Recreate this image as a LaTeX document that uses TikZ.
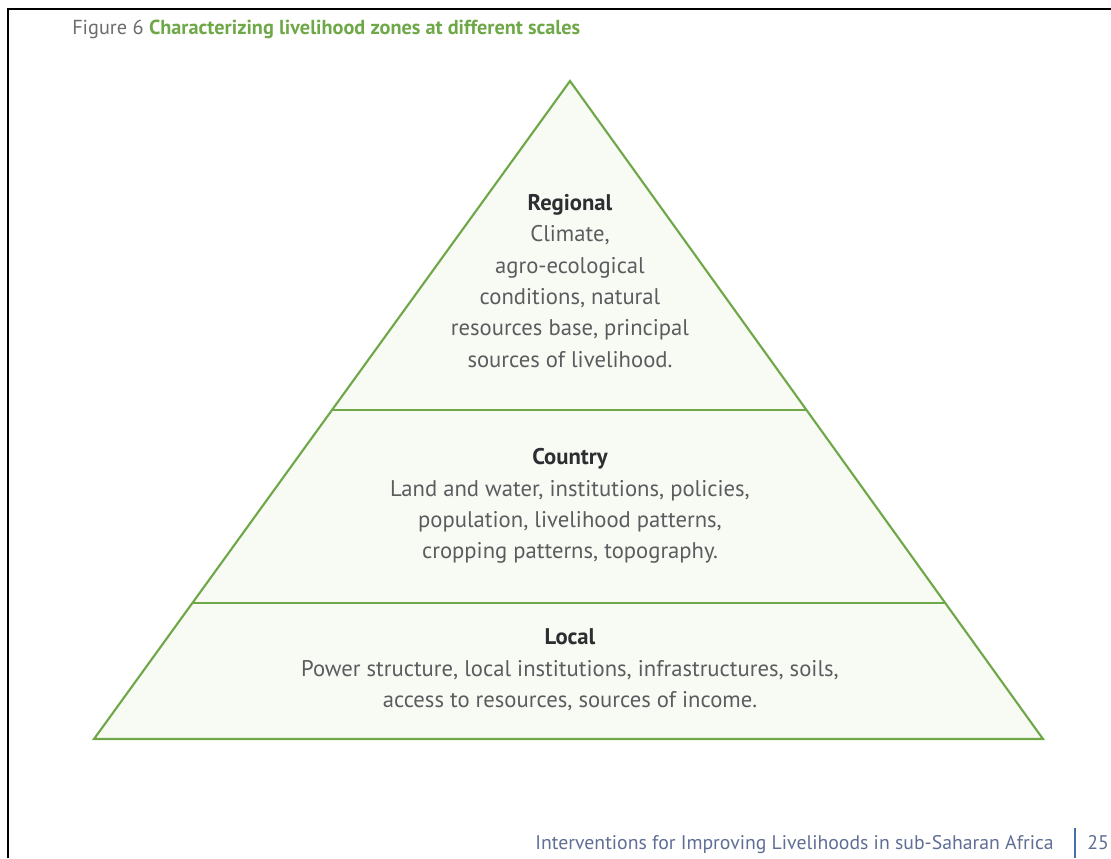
\documentclass[tikz,border=0pt]{standalone}
\usepackage{fontspec}
\setmainfont{PT Sans}
\definecolor{leafgreen}{RGB}{110,168,72}
\definecolor{palegreen}{RGB}{248,251,243}
\definecolor{bodygray}{RGB}{92,92,96}
\definecolor{headgray}{RGB}{45,45,50}
\definecolor{footblue}{RGB}{96,110,150}
\definecolor{barblue}{RGB}{70,110,170}

\begin{document}
\begin{tikzpicture}[x=0.75pt,y=-0.75pt,
    tier/.style={align=center,text=bodygray,inner sep=0pt,
      font=\fontsize{17}{23.5}\selectfont}]
  \useasboundingbox (0,0) rectangle (1111,858);
  % page frame
  \draw[line width=2.2pt] (8,858) -- (8,9) -- (1111,9);
  \node[anchor=base west,inner sep=0pt,text=gray!85!black,
    font=\fontsize{15.2}{17}\selectfont] (title) at (72,34)
    {Figure 6 \textcolor{leafgreen}{\bfseries Characterizing livelihood zones at different scales}};

  % pyramid
  \coordinate (top) at (570,81);
  \coordinate (bl) at (94,739);
  \coordinate (br) at (1043,739);
  \fill[palegreen] (top) -- (bl) -- (br) -- cycle;
  \path (top) -- (bl) coordinate[pos=0.5] (l1) coordinate[pos=0.7933] (l2);
  \path (top) -- (br) coordinate[pos=0.5] (r1) coordinate[pos=0.7933] (r2);
  \draw[leafgreen,line width=1.6pt,line join=miter] (top) -- (bl) -- (br) -- cycle;
  \draw[leafgreen,line width=1.6pt] (l1) -- (r1);
  \draw[leafgreen,line width=1.6pt] (l2) -- (r2);

  \node[tier] (regional) at (570,281)
    {\textcolor{headgray}{\bfseries Regional}\\
     Climate,\\
     agro-ecological\\
     conditions, natural\\
     resources base, principal\\
     sources of livelihood.};
  \node[tier] (country) at (570,506)
    {\textcolor{headgray}{\bfseries Country}\\
     Land and water, institutions, policies,\\
     population, livelihood patterns,\\
     cropping patterns, topography.};
  \node[tier] (local) at (570,670)
    {\textcolor{headgray}{\bfseries Local}\\
     Power structure, local institutions, infrastructures, soils,\\
     access to resources, sources of income.};

  % running foot
  \node[anchor=base east,inner sep=0pt,text=footblue,
    font=\fontsize{14.8}{17}\selectfont] (foot) at (1054,849)
    {Interventions for Improving Livelihoods in sub-Saharan Africa};
  \draw[barblue,line width=1.2pt] (1075,828) -- (1075,858);
  \node[anchor=base west,inner sep=0pt,text=footblue,
    font=\fontsize{14.8}{17}\selectfont] (page) at (1087,849) {25};
\end{tikzpicture}
\end{document}
